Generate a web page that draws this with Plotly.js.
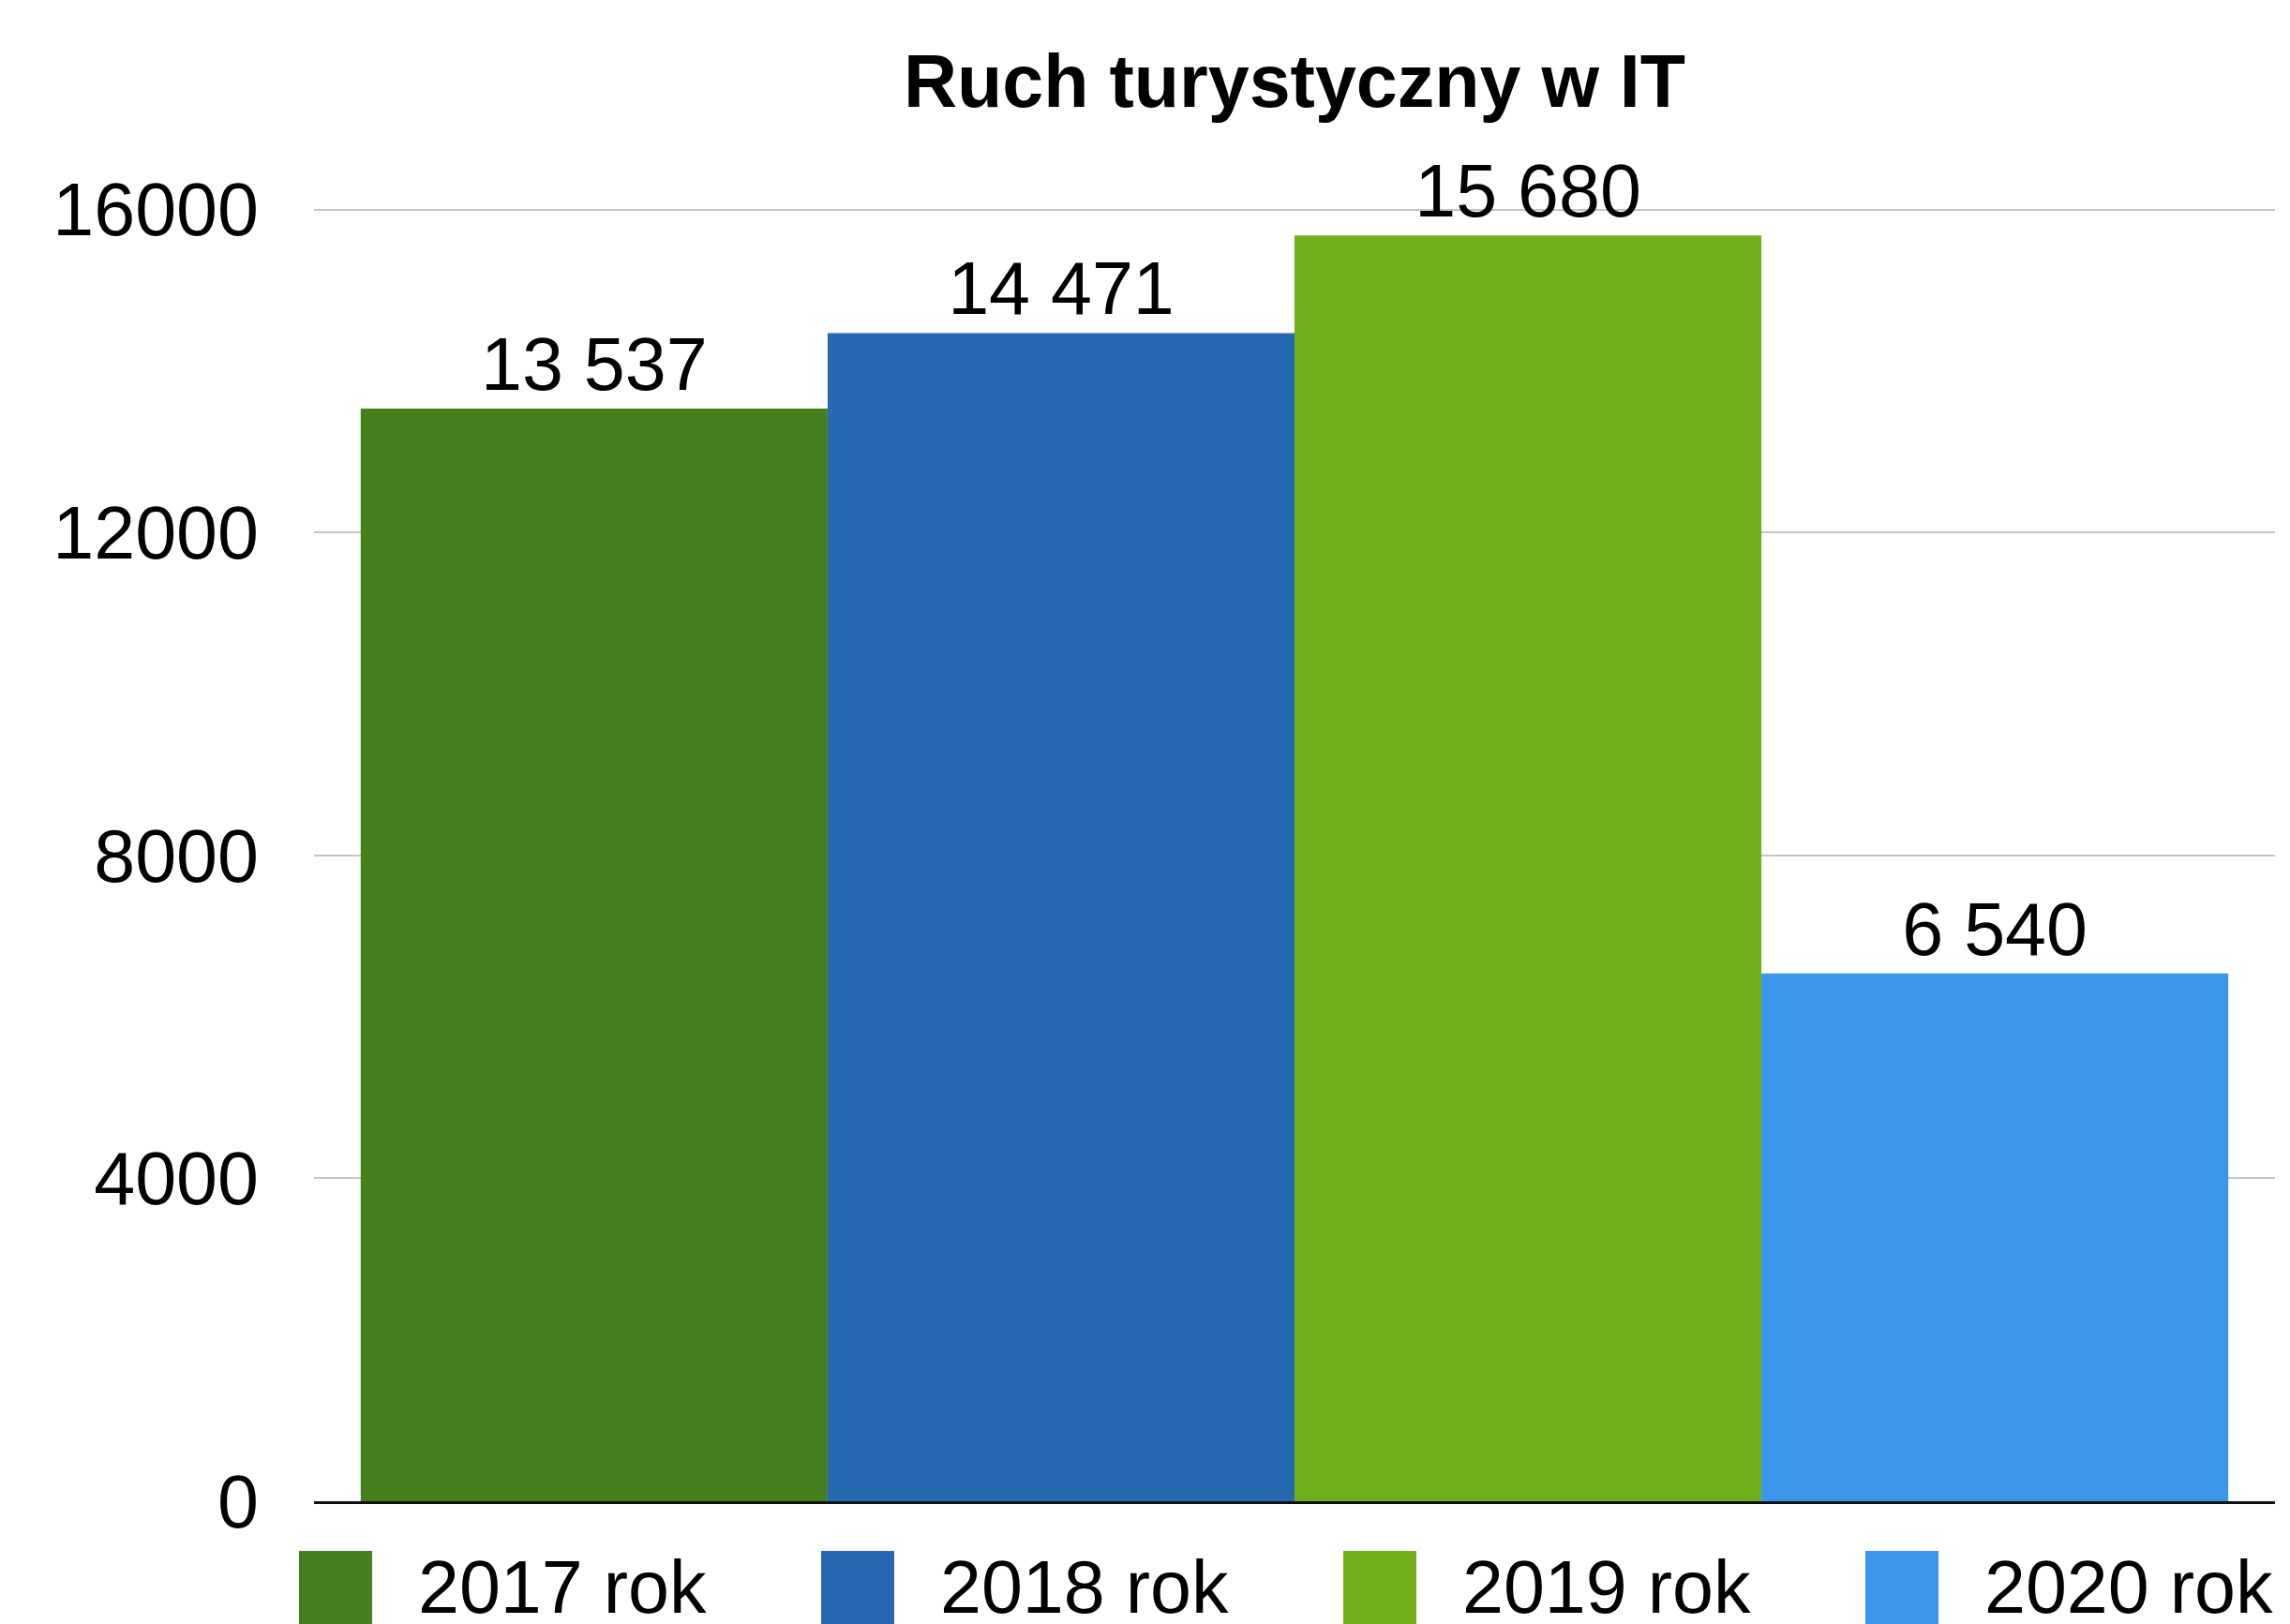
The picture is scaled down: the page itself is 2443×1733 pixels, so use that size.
<!DOCTYPE html>
<html>
<head>
<meta charset="utf-8">
<script src="https://cdn.plot.ly/plotly-3.0.1.min.js"></script>
<style>
  html, body { margin: 0; padding: 0; background: #ffffff; }
  #chart { width: 2443px; height: 1733px; }
</style>
</head>
<body>
<div id="chart"></div>
<script>
// ---- data ----
const categories = ['2017 rok', '2018 rok', '2019 rok', '2020 rok'];
const values = [13537, 14471, 15680, 6540];
const colors = ['#467F1E', '#2769B1', '#70B01D', '#3C97EC'];
const yTicks = [0, 4000, 8000, 12000, 16000];
const titleText = 'Ruch turystyczny w IT';

// ---- layout geometry (pixels) ----
const W = 2443, H = 1733;
const L = 335, R = 2427, T = 222, B = 1602;
const FONT = '"Liberation Sans", Arial, Helvetica, sans-serif';
const FS = 79;

const px2x = X => (X - L) / (R - L);
const px2y = Y => (B - Y) / (B - T);

const traces = categories.map((c, i) => ({
  type: 'bar',
  name: c,
  x: [c],
  y: [values[i]],
  width: [1],
  marker: { color: colors[i], line: { width: 0 } },
  texttemplate: '%{y:,}',
  textposition: 'outside',
  textangle: 0,
  constraintext: 'none',
  cliponaxis: false,
  textfont: { family: FONT, size: FS, color: '#000000' },
  hoverinfo: 'skip',
  showlegend: false
}));

// legend drawn as shapes + annotations
const legStart = 319, legStep = 557, sw = 78, swTop = 1655, swBot = 1733, txtOff = 125, txtMid = 1693;
const shapes = [];
const annotations = [];
categories.forEach((c, i) => {
  const x0 = legStart + i * legStep;
  shapes.push({
    type: 'rect', xref: 'paper', yref: 'paper',
    x0: px2x(x0), x1: px2x(x0 + sw), y0: px2y(swBot), y1: px2y(swTop),
    fillcolor: colors[i], line: { width: 0 }, layer: 'above'
  });
  annotations.push({
    xref: 'paper', yref: 'paper', x: px2x(x0 + txtOff), y: px2y(txtMid),
    xanchor: 'left', yanchor: 'middle', showarrow: false,
    text: c, font: { family: FONT, size: FS, color: '#000000' }
  });
});

const layout = {
  width: W, height: H,
  margin: { l: L, r: W - R, t: T, b: H - B, pad: 0 },
  paper_bgcolor: '#ffffff', plot_bgcolor: '#ffffff',
  separators: ', ',
  barmode: 'overlay',
  showlegend: false,
  font: { family: FONT, size: FS, color: '#000000' },
  title: {
    text: '<b>' + titleText + '</b>',
    xref: 'paper', x: 0.5, xanchor: 'center',
    yref: 'container', y: 1 - 86 / H, yanchor: 'middle',
    font: { family: FONT, size: FS, color: '#000000' }
  },
  xaxis: {
    type: 'category',
    categoryorder: 'array', categoryarray: categories,
    range: [-0.6, 3.6],
    showticklabels: false, ticks: '',
    showgrid: false, zeroline: false,
    showline: true, linecolor: '#111111', linewidth: 3,
    fixedrange: true
  },
  yaxis: {
    range: [0, 16020],
    tickvals: yTicks, tickformat: 'd',
    ticks: '', ticklabelstandoff: 58,
    showgrid: true, gridcolor: '#c4c4c4', gridwidth: 2,
    zeroline: false, showline: false,
    tickfont: { family: FONT, size: FS, color: '#000000' },
    fixedrange: true
  },
  shapes: shapes,
  annotations: annotations
};

Plotly.newPlot('chart', traces, layout, { staticPlot: true, displayModeBar: false });
</script>
</body>
</html>
